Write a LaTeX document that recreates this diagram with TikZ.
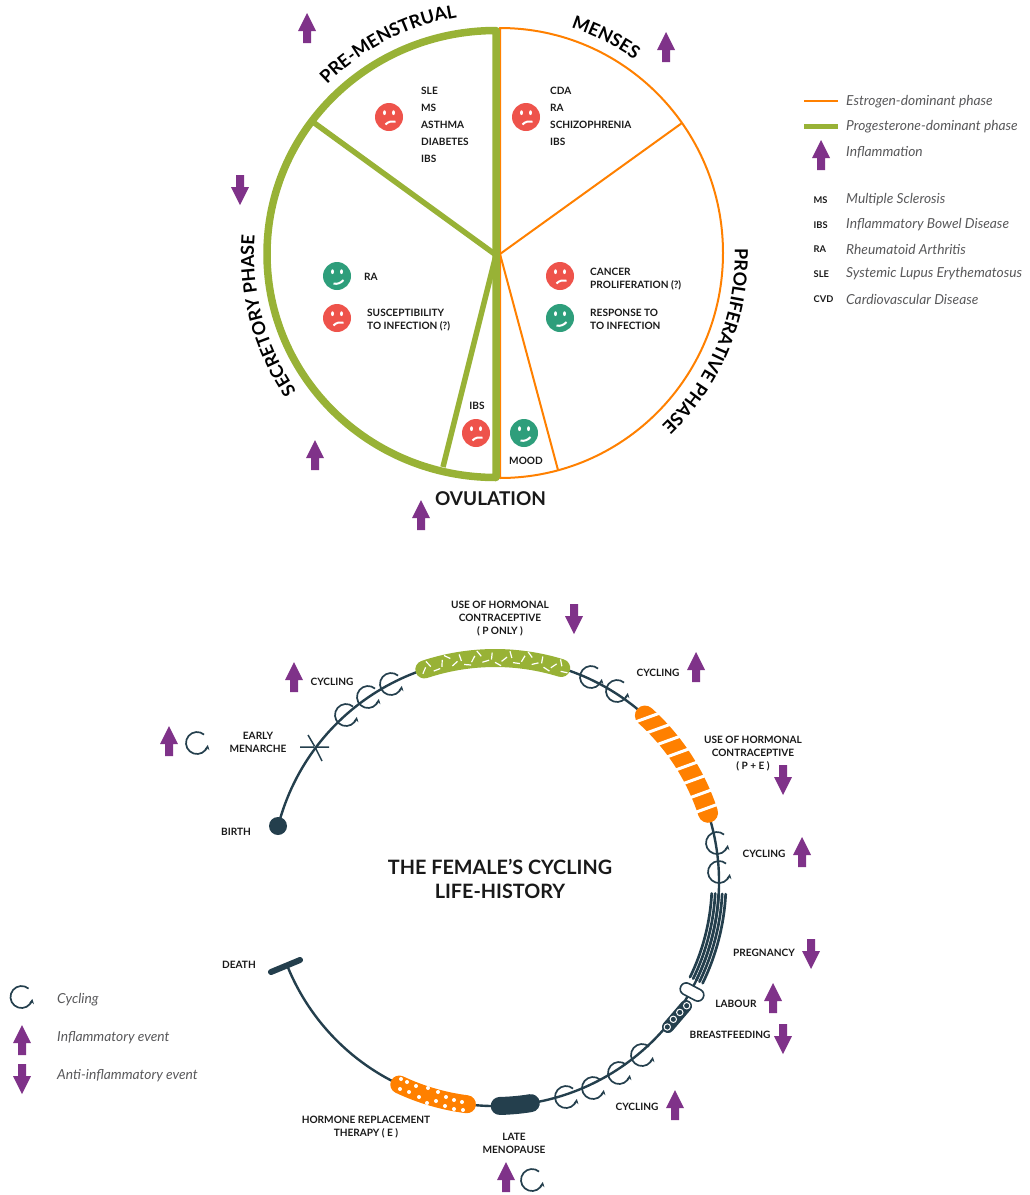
\documentclass[tikz,border=0pt]{standalone}
\usepackage{fontspec}
\setmainfont{Lato}
\usetikzlibrary{decorations.text,arrows.meta}

\definecolor{estro}{HTML}{FF8000}
\definecolor{proge}{HTML}{98B236}
\definecolor{inflam}{HTML}{7F3289}
\definecolor{life}{HTML}{243F4D}
\definecolor{sad}{HTML}{EE534B}
\definecolor{happy}{HTML}{2E9E7B}
\definecolor{legendgrey}{HTML}{58585A}

\newcommand{\ringarc}[3][]{\draw[#1] (#2:224) arc[start angle=#2,end angle=#3,radius=224];}

\tikzset{
  lbl/.style={font=\fontsize{10.1}{13}\selectfont\bfseries,text=black!90,inner sep=0pt,align=center,yshift=-0.8pt},
  lbllist/.style={font=\fontsize{10.1}{17}\selectfont\bfseries,text=black!90,inner sep=0pt,align=left,anchor=west,yshift=-0.8pt},
  lblleft/.style={lbl,align=left,anchor=west},
  legtext/.style={font=\fontsize{13.8}{15}\selectfont\itshape,text=legendgrey,inner sep=0pt,anchor=west},
  lifeline/.style={draw=life,line width=2.4pt},
  uparrow/.pic={\fill[inflam] (0,15) -- (9,-3) -- (4,-3) -- (4,-15) -- (-4,-15) -- (-4,-3) -- (-9,-3) -- cycle;},
  downarrow/.pic={\fill[inflam] (0,-15) -- (9,3) -- (4,3) -- (4,15) -- (-4,15) -- (-4,3) -- (-9,3) -- cycle;},
  cycle/.pic={\draw[draw=life,line width=1.7pt,-{Stealth[length=5pt,width=5pt]}] (50:11) arc[start angle=50,end angle=350,radius=11];},
  eyes/.pic={\fill[white] (-4.5,4.3) ellipse (1.5 and 2.4) (4.5,4.3) ellipse (1.5 and 2.4);},
  sadface/.pic={\fill[sad] (0,0) circle (14); \pic {eyes};
    \draw[white,line width=2pt] (-3.5,-7.5) .. controls (-1,-4.5) and (3,-4) .. (6.5,-4.5);},
  happyface/.pic={\fill[happy] (0,0) circle (14); \pic {eyes};
    \draw[white,line width=2pt] (-3.5,-7.5) .. controls (0,-8.5) and (4,-7) .. (6.5,-4);},
  curved/.style={decorate,decoration={text along path,text align=center,text={|\fontsize{18}{20}\selectfont\bfseries|#1}}}
}

\begin{document}
\begin{tikzpicture}[x=1pt,y=1pt]
  \useasboundingbox (0,0) rectangle (1029,-1195);

  % phase wheel
  \coordinate (hubg) at (496,-255);
  \coordinate (hubo) at (500,-254);
  \coordinate (g1) at (313,-122);
  \coordinate (g2) at (443,-467);
  \coordinate (o1) at (682,-123);
  \coordinate (o2) at (558,-470);

  \draw[estro,line width=2pt,line join=round] (500,-28) arc[start angle=90,end angle=-90,x radius=223,y radius=225] -- cycle;
  \draw[estro,line width=2pt] (hubo) -- (o1) (hubo) -- (o2);
  \draw[proge,line width=7.5pt,line join=round] (496,-30.5) arc[start angle=90,end angle=270,x radius=229,y radius=223.5] -- cycle;
  \draw[proge,line width=5.5pt] (hubg) -- (g1) (hubg) -- (g2);

  \begin{scope}[shift={(497,-254)}]
    \path[curved={PRE-MENSTRUAL}] (150:240) arc[start angle=150,end angle=84.6,radius=240];
    \path[curved={MENSES}] (95:238) arc[start angle=95,end angle=31.6,radius=238];
    \path[curved={PROLIFERATIVE PHASE}] (32.5:238) arc[start angle=32.5,end angle=-77.5,radius=238];
    \path[curved={SECRETORY PHASE}] (247.5:243) arc[start angle=247.5,end angle=142.4,radius=243];
  \end{scope}
  \node[lbl,font=\fontsize{19}{21}\selectfont\bfseries] (ovulation) at (490.5,-498) {OVULATION};

  \foreach \x/\y in {389/117,526/117,337/318,560/276,476/433} \pic at (\x,-\y) {sadface};
  \foreach \x/\y in {337/276,560/318,524/433} \pic at (\x,-\y) {happyface};

  \node[lbllist] (premen) at (421,-124) {SLE\\MS\\ASTHMA\\DIABETES\\IBS};
  \node[lbllist] (menses) at (550,-115.5) {CDA\\RA\\SCHIZOPHRENIA\\IBS};
  \node[lblleft] (secra) at (364,-276) {RA};
  \node[lblleft] (secinf) at (367,-319) {SUSCEPTIBILITY\\TO INFECTION (?)};
  \node[lblleft] (procan) at (590,-278) {CANCER\\PROLIFERATION (?)};
  \node[lblleft] (proinf) at (590,-319) {RESPONSE TO\\TO INFECTION};
  \node[lbl] (ovibs) at (477,-405) {IBS};
  \node[lbl] (ovmood) at (526,-460) {MOOD};

  % legend of the wheel
  \coordinate (ke1) at (804,-101);
  \coordinate (ke2) at (838,-101);
  \coordinate (kp1) at (804,-126);
  \coordinate (kp2) at (838,-126);
  \draw[estro,line width=1.5pt] (ke1) -- (ke2);
  \draw[proge,line width=5pt] (kp1) -- (kp2);
  \node[legtext] (lesto) at (846,-102) {Estrogen-dominant phase};
  \node[legtext] (lprog) at (846,-127) {Progesterone-dominant phase};
  \node[legtext] (linfl) at (846,-152) {Inflammation};
  \foreach \a/\b/\y in {MS/Multiple Sclerosis/199,IBS/Inflammatory Bowel Disease/224,RA/Rheumatoid Arthritis/248,SLE/Systemic Lupus Erythematosus/273,CVD/Cardiovascular Disease/298}{
    \node[lblleft,font=\fontsize{9.3}{10}\selectfont\bfseries] (abb\a) at (813.5,-\y) {\a};
    \node[legtext] (txt\a) at (846,-\y-1) {\b};
  }

  % life history ring
  \begin{scope}[shift={(495,-882)}]
    \ringarc[lifeline]{165.4}{-157.7}

    % P only
    \ringarc[proge,line width=18pt,line cap=round]{108.4}{72.8}
    \foreach \a [count=\i] in {108.5,107,105.3,103.6,102,100.4,98.8,97.2,95.6,94,92.4,90.8,89.2,87.6,86,84.4,82.8,81.2,79.6,78,76.4,74.8,73.2,71.8}{
      \pgfmathsetmacro\t{mod(\i*67,180)}
      \pgfmathsetmacro\o{224+mod(\i*5,13)-6}
      \draw[white,line width=1.2pt] (\a:\o) ++(\t:3.5) -- ++(\t+180:7);
    }

    % P + E
    \ringarc[estro,line width=20pt,line cap=round]{48}{18}
    \foreach \a in {47.2,43.2,...,19}
      \draw[white,line width=3pt] (\a:224) ++(20:15) -- ++(200:30);

    % pregnancy
    \foreach \o in {-7,-3.5,0,3.5,7}
      \draw[life,line width=2.7pt,line cap=round] (-3:224+\o) arc[start angle=-3,end angle=-26,radius=224+\o];

    % menopause
    \ringarc[life,line width=18pt,line cap=round]{-88.8}{-80.8}

    % E only
    \ringarc[estro,line width=18pt,line cap=round]{-115.3}{-97.2}
  \end{scope}

  \foreach \x/\y in {401/1079,407/1082,416/1086,400/1089,409/1092,428/1088,438/1092,419/1097,427/1103,436/1101,446/1097,454/1100,462/1102,445/1106,454/1109,463/1110}
    \fill[white] (\x,-\y) circle (2);

  % breastfeeding
  \coordinate (bf1) at (668,-1027);
  \coordinate (bf2) at (686,-1006);
  \draw[life,line width=12pt,line cap=round] (bf1) -- (bf2);
  \foreach \x/\y in {686.7/1005.7,679.8/1012.4,673.3/1019.3,667.3/1027}
    \draw[white,line width=1pt] (\x,-\y) circle (3.2);

  % labour
  \node[draw=life,fill=white,line width=1.6pt,minimum width=25pt,minimum height=12pt,inner sep=0pt,rounded corners=5.8pt,rotate=-28] (labour) at (692,-992) {};

  % birth, menarche, death
  \node[circle,fill=life,minimum size=18pt,inner sep=0pt] (birth) at (278,-826) {};
  \node[inner sep=0pt] (menarche) at (315,-747) {};
  \draw[life,line width=1.5pt] (300,-747) -- (menarche) -- (329,-747) (308,-735) -- (menarche) -- (322,-761);
  \coordinate (d1) at (271,-972);
  \coordinate (d2) at (300,-960);
  \draw[life,line width=6pt,line cap=round] (d1) -- (d2);

  \foreach \x/\y in {346/715,368/697,391/684,197/743,591/677,617/691,717/843,719/872,642/1055,619/1073,593/1088,566/1097,532/1180,21.5/997}
    \pic at (\x,-\y) {cycle};

  \foreach \x/\y in {307/28,666/47,315/455,421/515,821/155,294/677,169/741,696/667,802/852,773/998,675/1105,506/1177,22/1040}
    \pic at (\x,-\y) {uparrow};
  \foreach \x/\y in {240/190,574/619,783/780,811/954,783/1039,22/1079}
    \pic at (\x,-\y) {downarrow};

  \node[font=\fontsize{19.8}{24.5}\selectfont\bfseries,text=black!90,align=center,inner sep=0pt] (title) at (500,-879) {THE FEMALE’S CYCLING\\LIFE-HISTORY};

  \node[lbl] (usep) at (500,-618) {USE OF HORMONAL\\CONTRACEPTIVE\\( P ONLY )};
  \node[lbl] (usepe) at (753,-753) {USE OF HORMONAL\\CONTRACEPTIVE\\( P + E )};
  \node[lbl] (cyc1) at (332,-681) {CYCLING};
  \node[lbl] (early) at (258,-742) {EARLY\\MENARCHE};
  \node[lbl] (lbirth) at (236,-831) {BIRTH};
  \node[lbl] (cyc2) at (658,-672) {CYCLING};
  \node[lbl] (cyc3) at (764,-853) {CYCLING};
  \node[lbl] (preg) at (764,-952) {PREGNANCY};
  \node[lbl] (lab) at (736,-1003) {LABOUR};
  \node[lbl] (breast) at (730,-1034) {BREASTFEEDING};
  \node[lbl] (cyc4) at (637,-1106) {CYCLING};
  \node[lbl] (late) at (514,-1142.5) {LATE\\MENOPAUSE};
  \node[lbl] (hrt) at (366,-1126.5) {HORMONE REPLACEMENT\\THERAPY ( E )};
  \node[lbl] (ldeath) at (239,-964) {DEATH};

  \node[legtext] (lcyc) at (57,-1000) {Cycling};
  \node[legtext] (linf) at (57,-1038) {Inflammatory event};
  \node[legtext] (lanti) at (57,-1076) {Anti-inflammatory event};
\end{tikzpicture}
\end{document}
